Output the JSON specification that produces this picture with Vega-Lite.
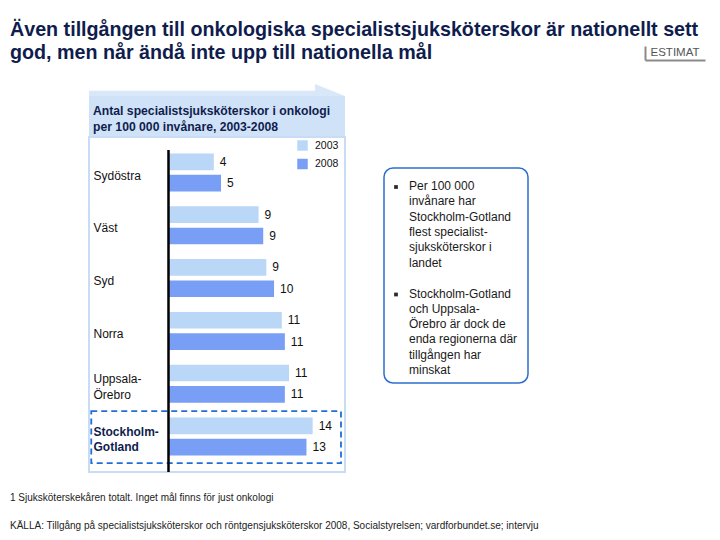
{
  "$schema": "https://vega.github.io/schema/vega-lite/v6.json",
  "background": "white",
  "padding": {"left": 10, "top": 19, "right": 5, "bottom": 5},
  "config": {"font": "Liberation Sans", "view": {"stroke": null}},
  "title": {
    "text": ["Även tillgången till onkologiska specialistsjuksköterskor är nationellt sett", "god, men når ändå inte upp till nationella mål"],
    "anchor": "start", "frame": "group", "fontSize": 19.7, "fontWeight": "bold", "color": "#0f1d4d", "lineHeight": 23.5, "offset": -17
  },
  "datasets": {
    "bars": [
      {"region": "Sydöstra", "year": "2003", "value": 4.4, "label": "4"},
      {"region": "Sydöstra", "year": "2008", "value": 5.1, "label": "5"},
      {"region": "Väst", "year": "2003", "value": 8.75, "label": "9"},
      {"region": "Väst", "year": "2008", "value": 9.2, "label": "9"},
      {"region": "Syd", "year": "2003", "value": 9.5, "label": "9"},
      {"region": "Syd", "year": "2008", "value": 10.25, "label": "10"},
      {"region": "Norra", "year": "2003", "value": 11.0, "label": "11"},
      {"region": "Norra", "year": "2008", "value": 11.3, "label": "11"},
      {"region": "Uppsala-Örebro", "year": "2003", "value": 11.7, "label": "11"},
      {"region": "Uppsala-Örebro", "year": "2008", "value": 11.3, "label": "11"},
      {"region": "Stockholm-Gotland", "year": "2003", "value": 14.0, "label": "14"},
      {"region": "Stockholm-Gotland", "year": "2008", "value": 13.4, "label": "13"}
    ]
  },
  "spacing": 17,
  "vconcat": [
    {
      "spacing": 23,
      "vconcat": [
        {
          "spacing": 0,
          "hconcat": [
            {"width": 635, "height": 14, "data": {"values": [{}]}, "mark": {"type": "point", "opacity": 0}},
            {
              "width": 60, "height": 14,
              "data": {"values": [{"t": "ESTIMAT"}]},
              "mark": {"type": "text", "fontSize": 11.5, "color": "#555555", "baseline": "middle", "align": "center"},
              "encoding": {
                "x": {"datum": 0.5, "type": "quantitative", "scale": {"domain": [0, 1]}, "axis": {"domain": true, "domainColor": "#8a8a8a", "domainWidth": 2, "ticks": false, "labels": false, "title": null, "grid": false}},
                "y": {"datum": 0.5, "type": "quantitative", "scale": {"domain": [0, 1]}, "axis": {"domain": true, "domainColor": "#8a8a8a", "domainWidth": 2, "ticks": false, "labels": false, "title": null, "grid": false}},
                "text": {"field": "t"}
              }
            }
          ]
        },
        {
          "spacing": 37,
          "hconcat": [
            {"width": 41, "height": 10, "data": {"values": [{}]}, "mark": {"type": "point", "opacity": 0}},
            {
              "spacing": 0,
              "vconcat": [
                {
                  "width": 256, "height": 13,
                  "data": {"values": [{}]},
                  "layer": [
                    {
                      "mark": {"type": "rect", "color": "#d8e8f9"},
                      "encoding": {
                        "x": {"datum": 0, "type": "quantitative", "scale": {"domain": [0, 1]}, "axis": null},
                        "x2": {"datum": 0.885},
                        "y": {"datum": 0, "type": "quantitative", "scale": {"domain": [0, 1]}, "axis": null},
                        "y2": {"datum": 0.4}
                      }
                    },
                    {
                      "mark": {"type": "point", "shape": "M -2 -0.8 L 0 0 L -2 0 Z", "size": 900, "filled": true, "color": "#d8e8f9", "opacity": 1},
                      "encoding": {
                        "x": {"datum": 1, "type": "quantitative"},
                        "y": {"datum": 0, "type": "quantitative"}
                      }
                    }
                  ]
                },
                {
                  "width": 256, "height": 40,
                  "view": {"fill": "#cfe2f8", "stroke": null},
                  "data": {"values": [{"h": "Antal specialistsjuksköterskor i onkologi\nper 100 000 invånare, 2003-2008"}]},
                  "mark": {"type": "text", "align": "left", "baseline": "middle", "dx": 4, "dy": -5, "fontSize": 12.2, "fontWeight": "bold", "color": "#0f1d4d", "lineHeight": 16, "lineBreak": "\n"},
                  "encoding": {
                    "x": {"datum": 0, "type": "quantitative", "scale": {"domain": [0, 1]}, "axis": null},
                    "text": {"field": "h"}
                  }
                },
                {
                  "width": 256, "height": 335,
                  "view": {"stroke": "#c8ddf5", "strokeWidth": 2, "fill": "white"},
                  "data": {"name": "bars"},
                  "resolve": {"scale": {"y": "independent"}},
                  "layer": [
                    {
                      "transform": [{"filter": "datum.region === 'Stockholm-Gotland' && datum.year === '2003'"}],
                      "mark": {"type": "rect", "fillOpacity": 0, "stroke": "#1f6fd6", "strokeWidth": 1.8, "strokeDash": [6, 4]},
                      "encoding": {
                        "y": {"field": "region", "type": "nominal", "scale": {"domain": ["Sydöstra", "Väst", "Syd", "Norra", "Uppsala-Örebro", "Stockholm-Gotland"], "paddingInner": 0.02, "paddingOuter": 0.167}, "axis": null},
                        "x": {"datum": -7.5, "type": "quantitative"},
                        "x2": {"datum": 16.75}
                      }
                    },
                    {
                      "layer": [
                        {
                          "mark": {"type": "bar"},
                          "encoding": {
                            "y": {
                              "field": "region", "type": "nominal",
                              "scale": {"domain": ["Sydöstra", "Väst", "Syd", "Norra", "Uppsala-Örebro", "Stockholm-Gotland"], "paddingInner": 0.28, "paddingOuter": 0.3125},
                              "axis": {
                                "title": null, "domain": false, "ticks": false, "tickSize": 0,
                                "labelAlign": "left", "labelPadding": -4, "labelBaseline": "middle",
                                "labelOffset": {"condition": {"test": "indexof(datum.value, '-') >= 0", "value": -4.5}, "value": 3},
                                "labelFontSize": 12, "labelLineHeight": 15.5,
                                "labelExpr": "split(replace(datum.label, '-', '-|'), '|')",
                                "labelColor": {"condition": {"test": "datum.value === 'Stockholm-Gotland'", "value": "#0f1d4d"}, "value": "#111111"},
                                "labelFontWeight": {"condition": {"test": "datum.value === 'Stockholm-Gotland'", "value": "bold"}, "value": "normal"}
                              }
                            },
                            "x": {"field": "value", "type": "quantitative", "scale": {"domain": [-7.72, 17.14], "nice": false, "zero": false}, "axis": null},
                            "yOffset": {"field": "year", "type": "nominal", "scale": {"paddingInner": 0.22, "paddingOuter": 0}},
                            "color": {
                              "field": "year", "type": "nominal",
                              "scale": {"domain": ["2003", "2008"], "range": ["#bad7f8", "#799ef6"]},
                              "legend": {"orient": "none", "legendX": 287, "legendY": 94, "title": null, "symbolType": "square", "symbolSize": 110, "labelFontSize": 10.5, "labelColor": "#111111", "rowPadding": 7.5, "labelOffset": 7, "symbolStrokeWidth": 0}
                            }
                          }
                        },
                        {
                          "data": {"values": [{}]},
                          "mark": {"type": "rule", "color": "black", "strokeWidth": 2.5, "yOffset": 13, "y2Offset": -4},
                          "encoding": {"x": {"datum": 0, "type": "quantitative"}}
                        },
                        {
                          "mark": {"type": "text", "align": "left", "baseline": "middle", "dx": 6, "fontSize": 12, "color": "#111111"},
                          "encoding": {
                            "y": {"field": "region", "type": "nominal"},
                            "yOffset": {"field": "year", "type": "nominal"},
                            "x": {"field": "value", "type": "quantitative"},
                            "text": {"field": "label"}
                          }
                        }
                      ]
                    }
                  ]
                }
              ]
            },
            {
              "spacing": 0,
              "vconcat": [
                {"width": 144, "height": 84, "data": {"values": [{}]}, "mark": {"type": "point", "opacity": 0}},
                {
                  "width": 144, "height": 215,
                  "view": {"stroke": "#2b6fce", "strokeWidth": 1.5, "cornerRadius": 9, "fill": "white"},
                  "data": {"values": [
                    {"i": "1", "txt": "Per 100 000\ninvånare har\nStockholm-Gotland\nflest specialist-\nsjuksköterskor i\nlandet"},
                    {"i": "2", "txt": "Stockholm-Gotland\noch Uppsala-\nÖrebro är dock de\nenda regionerna där\ntillgången har\nminskat"}
                  ]},
                  "encoding": {
                    "y": {"field": "i", "type": "ordinal", "bandPosition": 0, "scale": {"type": "band", "paddingInner": 0, "paddingOuter": 0}, "axis": null},
                    "x": {"datum": 0, "type": "quantitative", "scale": {"domain": [0, 1]}, "axis": null}
                  },
                  "layer": [
                    {"mark": {"type": "point", "shape": "square", "filled": true, "size": 14, "color": "#2a2a2a", "opacity": 1, "xOffset": 12, "yOffset": 19}},
                    {"mark": {"type": "text", "align": "left", "baseline": "top", "dx": 25, "dy": 13, "fontSize": 12, "lineHeight": 15.3, "lineBreak": "\n", "color": "#1a1a1a"}, "encoding": {"text": {"field": "txt"}}}
                  ]
                }
              ]
            }
          ]
        }
      ]
    },
    {
      "width": 700, "height": 32,
      "data": {"values": [
        {"i": "1", "note": "1 Sjuksköterskekåren totalt. Inget mål finns för just onkologi"},
        {"i": "2", "note": "KÄLLA: Tillgång på specialistsjuksköterskor och röntgensjuksköterskor 2008, Socialstyrelsen; vardforbundet.se; intervju"}
      ]},
      "mark": {"type": "text", "align": "left", "baseline": "middle", "fontSize": 10, "color": "#222222"},
      "encoding": {
        "x": {"datum": 0, "type": "quantitative", "scale": {"domain": [0, 1]}, "axis": null},
        "y": {"field": "i", "type": "ordinal", "scale": {"type": "point", "padding": 0.07}, "axis": null},
        "text": {"field": "note"}
      }
    }
  ]
}
